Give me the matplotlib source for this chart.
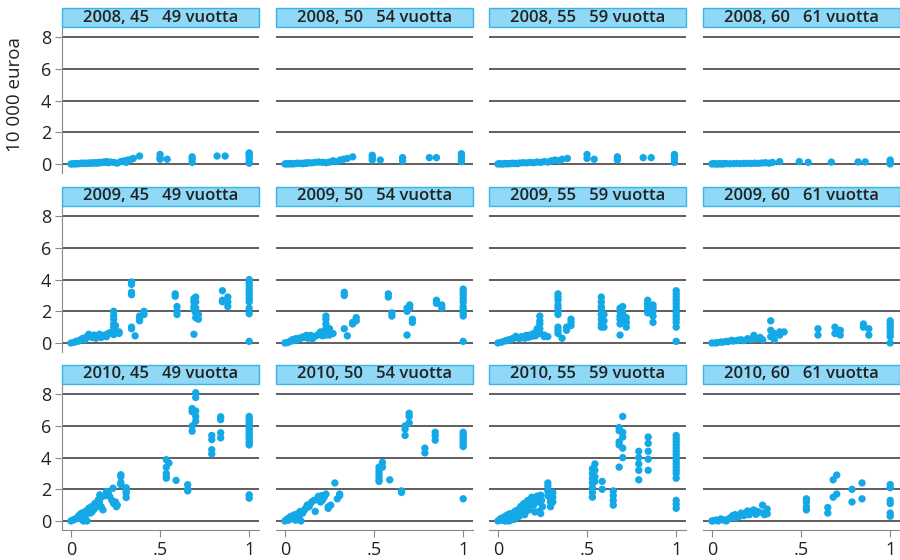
import matplotlib
matplotlib.use('Agg')
import matplotlib.pyplot as plt
from matplotlib.patches import Rectangle

plt.rcParams['font.family'] = ['Open Sans', 'DejaVu Sans']

years = ['2008', '2009', '2010']
age_groups = ['45   49', '50   54', '55   59', '60   61']
y_ticks = [0, 2, 4, 6, 8]
x_ticks = [0, 0.5, 1]
x_tick_labels = ['0', '.5', '1']
y_label = '10 000 euroa'

# ---- 2008 ----
x_2008_45 = [0.00, 0.01, 0.02, 0.03, 0.04, 0.05, 0.06, 0.07, 0.08, 0.10, 0.12, 0.14, 0.16, 0.18, 0.20, 0.22,
             0.24, 0.26, 0.28, 0.30, 0.31, 0.32, 0.34, 0.35, 0.385, 0.5, 0.5, 0.5, 0.54, 0.68, 0.68, 0.68,
             0.82, 0.865, 1, 1, 1, 1, 1, 1, 0.09, 0.11, 0.13, 0.15, 0.17, 0.19, 0.21]
y_2008_45 = [0.0, 0.0, 0.02, 0.0, 0.03, 0.02, 0.05, 0.03, 0.05, 0.06, 0.07, 0.08, 0.1, 0.12, 0.15, 0.12,
             0.1, 0.05, 0.15, 0.2, 0.1, 0.25, 0.3, 0.35, 0.5, 0.6, 0.4, 0.3, 0.3, 0.45, 0.3, 0.1,
             0.5, 0.5, 0.7, 0.6, 0.5, 0.35, 0.15, 0.05, 0.03, 0.05, 0.06, 0.05, 0.08, 0.1, 0.08]
x_2008_50 = [0.0, 0.01, 0.02, 0.03, 0.05, 0.07, 0.09, 0.11, 0.13, 0.15, 0.17, 0.19, 0.21, 0.23, 0.25, 0.27,
             0.29, 0.31, 0.33, 0.35, 0.38, 0.49, 0.49, 0.49, 0.535, 0.66, 0.66, 0.81, 0.85, 0.99, 0.99, 0.99, 0.99,
             0.04, 0.06, 0.08, 0.10, 0.12]
y_2008_50 = [0.0, 0.02, 0.0, 0.03, 0.02, 0.05, 0.04, 0.06, 0.08, 0.07, 0.1, 0.12, 0.1, 0.08, 0.12, 0.2,
             0.15, 0.25, 0.3, 0.35, 0.45, 0.55, 0.4, 0.25, 0.25, 0.4, 0.2, 0.4, 0.4, 0.65, 0.5, 0.35, 0.15,
             0.0, 0.02, 0.03, 0.02, 0.04]
x_2008_55 = [0.0, 0.01, 0.02, 0.04, 0.06, 0.08, 0.10, 0.12, 0.14, 0.16, 0.18, 0.20, 0.22, 0.24, 0.26, 0.28,
             0.30, 0.32, 0.34, 0.36, 0.39, 0.5, 0.5, 0.54, 0.67, 0.67, 0.815, 0.86, 0.99, 0.99, 0.99, 0.99,
             0.03, 0.05, 0.07, 0.09, 0.11]
y_2008_55 = [0.0, 0.02, 0.0, 0.03, 0.02, 0.05, 0.04, 0.06, 0.08, 0.07, 0.1, 0.08, 0.12, 0.1, 0.15, 0.12,
             0.2, 0.25, 0.2, 0.3, 0.35, 0.6, 0.35, 0.3, 0.45, 0.25, 0.4, 0.4, 0.6, 0.45, 0.3, 0.1,
             0.0, 0.01, 0.02, 0.03, 0.02]
x_2008_60 = [0.0, 0.02, 0.04, 0.06, 0.08, 0.10, 0.12, 0.14, 0.16, 0.18, 0.20, 0.22, 0.24, 0.26, 0.28, 0.30,
             0.32, 0.34, 0.38, 0.49, 0.54, 0.67, 0.82, 0.86, 1.0, 1.0, 1.0, 0.01, 0.03, 0.05, 0.07]
y_2008_60 = [0.0, 0.0, 0.01, 0.0, 0.02, 0.01, 0.02, 0.03, 0.02, 0.03, 0.04, 0.03, 0.05, 0.04, 0.06, 0.08,
             0.05, 0.1, 0.15, 0.15, 0.1, 0.12, 0.13, 0.13, 0.25, 0.12, 0.0, 0.02, 0.0, 0.01, 0.02]

# ---- 2009 ----
x_2009_45 = [0.0, 0.03, 0.06, 0.09, 0.10, 0.10, 0.12, 0.15, 0.17, 0.19, 0.21, 0.05, 0.13,
             0.24, 0.24, 0.24, 0.24, 0.24, 0.24, 0.24, 0.27, 0.27,
             0.34, 0.34, 0.34, 0.34, 0.34, 0.34, 0.36, 0.385, 0.385, 0.385, 0.41, 0.41,
             0.585, 0.585, 0.595, 0.595, 0.595,
             0.69, 0.69, 0.69, 0.69, 0.69, 0.70, 0.70, 0.70, 0.70, 0.70, 0.715, 0.715,
             0.85, 0.85, 0.85, 0.88, 0.88, 0.88,
             1, 1, 1, 1, 1, 1, 1, 1, 1, 1, 1,
             0.02, 0.04, 0.07, 0.08, 0.11, 0.14, 0.16, 0.18, 0.20, 0.22, 0.245, 0.25]
y_2009_45 = [0.0, 0.1, 0.25, 0.4, 0.45, 0.55, 0.35, 0.45, 0.35, 0.5, 0.6, 0.15, 0.5,
             2.0, 1.73, 1.5, 1.2, 1.0, 0.68, 0.53, 0.6, 0.7,
             3.85, 3.7, 3.2, 3.05, 1.0, 0.9, 0.45, 1.5, 1.4, 1.7, 2.0, 1.8,
             3.1, 2.95, 2.3, 2.0, 1.8,
             0.55, 2.8, 2.6, 2.3, 2.1, 2.9, 2.6, 2.2, 1.9, 1.6, 1.8, 1.5,
             3.3, 2.7, 2.6, 2.9, 2.6, 2.3,
             4.0, 3.8, 3.6, 3.4, 3.2, 3.0, 2.8, 2.6, 2.2, 1.85, 0.1,
             0.05, 0.12, 0.3, 0.2, 0.4, 0.3, 0.55, 0.45, 0.4, 0.65, 0.85, 1.1]
x_2009_50 = [0.0, 0.02, 0.04, 0.06, 0.10, 0.12, 0.145, 0.155, 0.18, 0.20, 0.08,
             0.23, 0.23, 0.23, 0.23, 0.23, 0.25, 0.25, 0.27,
             0.333, 0.333, 0.333, 0.35, 0.38, 0.38, 0.40, 0.40,
             0.58, 0.58, 0.60, 0.60,
             0.685, 0.685, 0.685, 0.70, 0.70, 0.715, 0.715,
             0.85, 0.85, 0.88, 0.88,
             1, 1, 1, 1, 1, 1, 1, 1, 1, 1,
             0.01, 0.03, 0.05, 0.07, 0.09, 0.11, 0.13, 0.165, 0.19, 0.21]
y_2009_50 = [0.0, 0.05, 0.2, 0.27, 0.38, 0.48, 0.48, 0.27, 0.48, 0.7, 0.3,
             1.7, 1.5, 1.2, 0.9, 0.5, 0.9, 0.5, 0.6,
             3.2, 3.0, 0.9, 0.45, 1.3, 1.2, 1.6, 1.4,
             3.1, 2.9, 1.9, 1.7,
             2.2, 2.0, 0.5, 2.4, 2.2, 1.5, 1.3,
             2.7, 2.5, 2.4, 2.2,
             3.4, 3.2, 3.0, 2.8, 2.3, 2.1, 1.9, 1.7, 0.1, 2.6,
             0.02, 0.1, 0.15, 0.2, 0.3, 0.35, 0.3, 0.4, 0.55, 0.45]
x_2009_55 = [0.0, 0.04, 0.08, 0.10, 0.13, 0.16, 0.19, 0.20, 0.06, 0.15,
             0.235, 0.235, 0.235, 0.235, 0.235, 0.26, 0.26, 0.28,
             0.337, 0.337, 0.337, 0.337, 0.337, 0.337, 0.337, 0.337, 0.337, 0.337, 0.36, 0.385, 0.385,
             0.41, 0.41, 0.41,
             0.58, 0.58, 0.58, 0.58, 0.58, 0.58, 0.58, 0.58, 0.595, 0.595, 0.595,
             0.685, 0.685, 0.685, 0.685, 0.685, 0.685, 0.70, 0.70, 0.70, 0.72, 0.72, 0.72,
             0.84, 0.84, 0.84, 0.84, 0.84, 0.87, 0.87, 0.87, 0.87, 0.87,
             1, 1, 1, 1, 1, 1, 1, 1, 1, 1, 1, 1, 1,
             0.02, 0.05, 0.07, 0.09, 0.11, 0.12, 0.14, 0.17, 0.18, 0.21, 0.22]
y_2009_55 = [0.0, 0.13, 0.27, 0.42, 0.38, 0.48, 0.42, 0.6, 0.2, 0.3,
             1.7, 1.4, 1.2, 0.9, 0.6, 0.5, 0.4, 0.4,
             3.1, 2.9, 2.7, 2.4, 2.2, 2.0, 1.8, 1.0, 0.8, 0.6, 0.3, 1.0, 0.8,
             1.5, 1.3, 1.1,
             2.9, 2.6, 2.3, 2.1, 1.8, 1.5, 1.2, 1.0, 1.8, 1.4, 1.0,
             2.2, 2.0, 1.7, 1.5, 1.2, 0.5, 2.3, 1.9, 1.4, 1.6, 1.3, 1.0,
             2.7, 2.5, 2.3, 2.1, 1.9, 2.4, 2.2, 2.0, 1.7, 1.3,
             3.3, 3.1, 2.9, 2.7, 2.5, 2.3, 2.1, 1.9, 1.7, 1.5, 1.3, 1.0, 0.1,
             0.05, 0.15, 0.2, 0.3, 0.35, 0.28, 0.4, 0.35, 0.5, 0.45, 0.9]
x_2009_60 = [0.0, 0.05, 0.11, 0.165, 0.20, 0.235, 0.26, 0.285, 0.08, 0.14,
             0.33, 0.33, 0.33, 0.35, 0.35, 0.38, 0.38, 0.405,
             0.595, 0.595, 0.69, 0.69, 0.72, 0.72,
             0.85, 0.85, 0.88, 0.88,
             1, 1, 1, 1, 1, 1, 1,
             0.02, 0.03, 0.06, 0.09, 0.12, 0.15, 0.18, 0.22, 0.245, 0.27]
y_2009_60 = [0.0, 0.06, 0.17, 0.2, 0.27, 0.48, 0.27, 0.2, 0.1, 0.15,
             1.4, 0.8, 0.4, 0.2, 0.6, 0.5, 0.7, 0.7,
             0.9, 0.5, 1.0, 0.6, 0.8, 0.5,
             1.2, 1.0, 0.9, 0.5,
             1.4, 1.2, 1.0, 0.8, 0.6, 0.4, 0.0,
             0.0, 0.02, 0.05, 0.08, 0.12, 0.18, 0.15, 0.22, 0.3, 0.35]

# ---- 2010 ----
x_2010_45 = [0.0, 0.02, 0.04, 0.06, 0.07, 0.08, 0.09, 0.10, 0.115, 0.134, 0.153, 0.162, 0.17, 0.18,
             0.20, 0.218, 0.236, 0.24, 0.255, 0.05, 0.12, 0.145,
             0.28, 0.28, 0.28, 0.28, 0.31, 0.31, 0.31, 0.31,
             0.535, 0.535, 0.535, 0.535, 0.535, 0.55, 0.59, 0.655, 0.655, 0.655,
             0.68, 0.68, 0.68, 0.68, 0.70, 0.70, 0.70, 0.70, 0.70,
             0.79, 0.79, 0.79, 0.79, 0.84, 0.84, 0.84, 0.84,
             1, 1, 1, 1, 1, 1, 1, 1, 1, 1, 1, 1, 1, 1, 1,
             0.01, 0.03, 0.05, 0.08, 0.09, 0.11, 0.13, 0.14, 0.16, 0.17, 0.19, 0.21, 0.23, 0.25, 0.26]
y_2010_45 = [0.0, 0.1, 0.27, 0.49, 0.0, 0.6, 0.0, 0.8, 0.9, 1.1, 1.33, 1.65, 0.9, 0.7,
             1.86, 1.54, 2.07, 1.1, 0.9, 0.15, 0.6, 0.9,
             2.92, 2.8, 2.43, 2.3, 2.1, 1.9, 1.76, 1.48,
             3.87, 3.39, 3.0, 2.8, 2.7, 3.66, 2.56, 2.29, 2.0, 1.9,
             7.1, 6.9, 6.0, 5.67, 8.1, 7.8, 6.94, 6.6, 6.3,
             5.4, 5.14, 4.5, 4.23, 6.58, 6.4, 5.57, 5.25,
             6.6, 6.45, 6.3, 6.15, 6.0, 5.85, 5.7, 5.55, 5.4, 5.25, 5.1, 4.95, 4.8, 1.65, 1.44,
             0.05, 0.15, 0.4, 0.3, 0.55, 0.5, 0.75, 1.0, 1.2, 1.5, 1.6, 1.75, 1.3, 1.2, 1.0]
x_2010_50 = [0.0, 0.013, 0.03, 0.05, 0.07, 0.09, 0.10, 0.116, 0.135, 0.15, 0.163, 0.17, 0.187, 0.206,
             0.21, 0.23, 0.243, 0.243, 0.257, 0.28, 0.294, 0.307, 0.307, 0.06, 0.08,
             0.528, 0.528, 0.528, 0.528, 0.528, 0.528, 0.547, 0.547, 0.588, 0.654, 0.654,
             0.674, 0.674, 0.674, 0.697, 0.697, 0.697, 0.785, 0.785, 0.843, 0.843, 0.843,
             1, 1, 1, 1, 1, 1, 1, 1,
             0.02, 0.04, 0.07, 0.085, 0.11, 0.125, 0.14, 0.18, 0.2, 0.22]
y_2010_50 = [0.0, 0.13, 0.27, 0.38, 0.17, 0.0, 0.5, 0.8, 0.9, 1.2, 1.3, 0.6, 1.55, 1.6,
             1.3, 1.7, 0.9, 0.8, 1.0, 2.4, 1.4, 1.7, 1.6, 0.05, 0.3,
             3.4, 3.2, 3.0, 2.8, 2.6, 2.5, 3.7, 3.4, 2.6, 1.9, 1.8,
             6.0, 5.8, 5.4, 6.8, 6.6, 6.2, 4.6, 4.3, 5.6, 5.4, 5.1,
             5.6, 5.45, 5.3, 5.15, 5.0, 4.85, 4.7, 1.4,
             0.05, 0.15, 0.45, 0.6, 0.7, 1.0, 1.05, 1.35, 1.2, 1.5]
x_2010_55 = [0.0, 0.015, 0.034, 0.05, 0.07, 0.08, 0.09, 0.108, 0.127, 0.146, 0.155, 0.17, 0.18, 0.19,
             0.207, 0.22, 0.24, 0.25, 0.24, 0.12, 0.16, 0.2, 0.04, 0.1,
             0.28, 0.28, 0.28, 0.28, 0.295, 0.295, 0.295, 0.295, 0.308, 0.308, 0.308,
             0.53, 0.53, 0.53, 0.53, 0.53, 0.53, 0.53, 0.544, 0.544, 0.544, 0.544, 0.585, 0.585,
             0.647, 0.647, 0.647, 0.647, 0.68, 0.68, 0.68, 0.68, 0.68, 0.70, 0.70, 0.70, 0.70, 0.70,
             0.79, 0.79, 0.79, 0.79, 0.79, 0.843, 0.843, 0.843, 0.843, 0.843,
             1, 1, 1, 1, 1, 1, 1, 1, 1, 1, 1, 1, 1, 1, 1, 1, 1,
             0.01, 0.025, 0.045, 0.06, 0.065, 0.085, 0.095, 0.115, 0.135, 0.14, 0.16, 0.165, 0.175,
             0.185, 0.2, 0.21, 0.23, 0.23, 0.245, 0.13, 0.15, 0.06]
y_2010_55 = [0.0, 0.15, 0.25, 0.36, 0.04, 0.47, 0.1, 0.68, 0.9, 1.1, 0.57, 1.3, 1.0, 1.5,
             0.57, 1.57, 1.63, 0.9, 0.47, 0.3, 0.8, 1.2, 0.0, 0.2,
             2.4, 2.2, 1.9, 1.6, 1.7, 1.4, 1.2, 0.9, 1.8, 1.5, 1.2,
             3.3, 3.0, 2.7, 2.4, 2.1, 1.8, 1.5, 3.6, 3.2, 2.8, 2.5, 2.5, 2.0,
             1.9, 1.6, 1.3, 1.0, 5.9, 5.7, 5.0, 4.8, 3.4, 6.6, 5.6, 5.3, 4.6, 4.0,
             4.4, 4.0, 3.6, 3.2, 2.6, 5.3, 4.9, 4.4, 3.9, 3.2,
             5.4, 5.2, 5.0, 4.8, 4.6, 4.4, 4.2, 4.0, 3.8, 3.6, 3.4, 3.2, 3.0, 2.7, 1.3, 1.05, 0.8,
             0.05, 0.05, 0.1, 0.2, 0.45, 0.3, 0.6, 0.5, 0.7, 1.0, 0.9, 1.25, 0.7,
             1.3, 1.0, 1.4, 1.2, 0.6, 1.3, 0.55, 0.4, 0.0]
x_2010_60 = [0.0, 0.024, 0.05, 0.08, 0.10, 0.117, 0.145, 0.164, 0.18, 0.20, 0.22, 0.234, 0.247, 0.266,
             0.07, 0.13, 0.284, 0.294, 0.294, 0.31, 0.31,
             0.53, 0.53, 0.53, 0.53, 0.65, 0.65, 0.68, 0.68, 0.70, 0.70,
             0.786, 0.786, 0.842, 0.842, 1, 1, 1, 1, 1, 1,
             0.01, 0.035, 0.06, 0.09, 0.11, 0.13, 0.155, 0.17, 0.19, 0.21, 0.24, 0.255]
y_2010_60 = [0.0, 0.06, 0.13, 0.0, 0.17, 0.34, 0.27, 0.5, 0.34, 0.63, 0.6, 0.7, 0.42, 0.55,
             0.05, 0.2, 1.0, 0.5, 0.4, 0.75, 0.45,
             1.4, 1.2, 0.9, 0.7, 0.85, 0.5, 2.6, 1.5, 2.9, 1.7,
             2.0, 1.2, 2.4, 1.4, 2.3, 2.1, 1.3, 1.1, 0.5, 0.3,
             0.02, 0.0, 0.08, 0.1, 0.25, 0.4, 0.3, 0.45, 0.5, 0.4, 0.55, 0.6]

panel_x = [[x_2008_45, x_2008_50, x_2008_55, x_2008_60],
           [x_2009_45, x_2009_50, x_2009_55, x_2009_60],
           [x_2010_45, x_2010_50, x_2010_55, x_2010_60]]
panel_y = [[y_2008_45, y_2008_50, y_2008_55, y_2008_60],
           [y_2009_45, y_2009_50, y_2009_55, y_2009_60],
           [y_2010_45, y_2010_50, y_2010_55, y_2010_60]]

W, H = 900, 560
fig = plt.figure(figsize=(W / 100, H / 100), dpi=100)
col_left = [62, 276, 489, 703]
col_w = 197
row_top = [27, 206, 384]
ax_h = 146
header_h = 19

dot_color = '#14a9e6'
grid_color = '#333333'
spine_color = '#8a8a8a'

for r in range(3):
    for c in range(4):
        ax = fig.add_axes([col_left[c] / W, 1 - (row_top[r] + ax_h) / H, col_w / W, ax_h / H])
        ax.set_xlim(-0.05, 1.055)
        ax.set_ylim(-0.57, 8.65)
        for yt in y_ticks:
            ax.axhline(yt, color=grid_color, lw=1.1, zorder=1)
        ax.scatter(panel_x[r][c], panel_y[r][c], s=28, color=dot_color, edgecolors='none', zorder=3)
        for s in ['top', 'right']:
            ax.spines[s].set_visible(False)
        ax.spines['left'].set_visible(c == 0)
        ax.spines['bottom'].set_visible(r == 2)
        ax.spines['left'].set_color(spine_color)
        ax.spines['bottom'].set_color(spine_color)
        ax.set_yticks(y_ticks)
        ax.set_xticks(x_ticks)
        ax.tick_params(axis='y', left=(c == 0), labelleft=(c == 0), length=5, color=spine_color,
                       labelsize=13, pad=3, labelcolor='#222222')
        ax.tick_params(axis='x', bottom=(r == 2), labelbottom=(r == 2), length=5, color=spine_color,
                       labelsize=13, pad=3, labelcolor='#222222')
        if r == 2:
            ax.set_xticklabels(x_tick_labels)
        ax.patch.set_visible(False)
        rect = Rectangle((0, 1.0), 1, header_h / ax_h, transform=ax.transAxes, clip_on=False,
                         facecolor='#8fd8f6', edgecolor='#3ab3e6', lw=1.0, zorder=5)
        ax.add_patch(rect)
        ax.text(0.5, 1.0 + header_h / ax_h / 2, f'{years[r]}, {age_groups[c]} vuotta',
                transform=ax.transAxes, ha='center', va='center', fontsize=12,
                fontweight='semibold', color='#222222', zorder=6)

fig.text(15 / W, 1 - 95 / H, y_label, rotation=90, ha='center', va='center', fontsize=13.5, color='#222222')

fig.savefig('out.png', dpi=100)
